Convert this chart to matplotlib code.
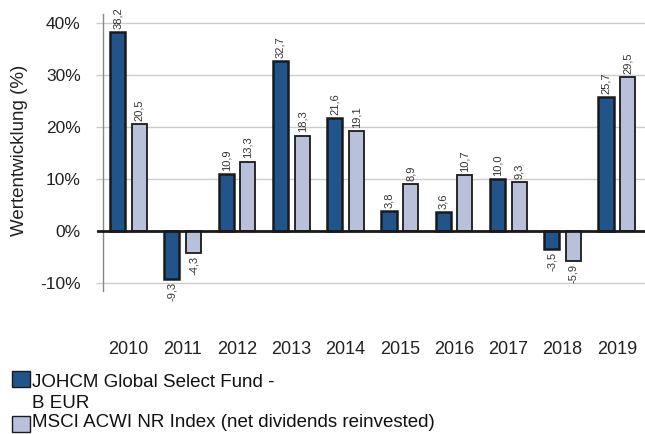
import numpy as np
import matplotlib.pyplot as plt
from matplotlib.patches import Rectangle

plt.rcParams['font.family'] = ['Liberation Sans', 'DejaVu Sans']

years = ['2010', '2011', '2012', '2013', '2014', '2015', '2016', '2017', '2018', '2019']
fund = [38.2, -9.3, 10.9, 32.7, 21.6, 3.8, 3.6, 10.0, -3.5, 25.7]
index = [20.5, -4.3, 13.3, 18.3, 19.1, 8.9, 10.7, 9.3, -5.9, 29.5]
fund_lines = ['JOHCM Global Select Fund -', 'B EUR']
index_name = 'MSCI ACWI NR Index (net dividends reinvested)'

dark = '#22548c'
light = '#b9c1da'
W, H = 645, 434

fig = plt.figure(figsize=(6.45, 4.34), dpi=100)
ax = fig.add_axes([103 / W, 1 - 291 / H, 1 - 103 / W, (291 - 14) / H])

x = np.arange(len(years))
w = 0.28
off = 0.2
ax.bar(x - off, fund, w, color=dark, edgecolor='#1a1a1a', linewidth=1.8, zorder=3)
ax.bar(x + off, index, w, color=light, edgecolor='#1a1a1a', linewidth=1.3, zorder=3)

def fmt(v):
    return ('%.1f' % v).replace('.', ',')

for xs, vals in ((x - off, fund), (x + off, index)):
    for xi, v in zip(xs, vals):
        if v >= 0:
            ax.text(xi, v + 0.6, fmt(v), rotation=90, ha='center', va='bottom',
                    fontsize=8, color='#333333')
        else:
            ax.text(xi, v - 0.6, fmt(v), rotation=90, ha='center', va='top',
                    fontsize=8, color='#333333')

ax.set_ylim(-11.6, 41.7)
ax.set_xlim(-0.47, 9.52)
ax.set_yticks([-10, 0, 10, 20, 30, 40])
ax.set_yticklabels(['-10%', '0%', '10%', '20%', '30%', '40%'], fontsize=12.5, color='#222222')
ax.set_xticks(x)
ax.set_xticklabels(years, fontsize=13, color='#222222')
ax.tick_params(axis='x', length=0, pad=36)
ax.tick_params(axis='y', length=5, width=1, color='#cccccc', pad=11)

ax.grid(axis='y', color='#cccccc', linewidth=1, zorder=0)
ax.axhline(0, xmin=-0.01, color='#1a1a1a', linewidth=2, zorder=4, clip_on=False)
for s in ['top', 'right', 'bottom']:
    ax.spines[s].set_visible(False)
ax.spines['left'].set_color('#888888')
ax.spines['left'].set_linewidth(1)

fig.text(20 / W, 1 - 150 / H, 'Wertentwicklung (%)', rotation=90, ha='center',
         va='center', fontsize=13.5, color='#222222')

# legend, drawn by hand so the patch sits on the first line of the wrapped label
fig.add_artist(Rectangle((12 / W, 1 - 387 / H), 18 / W, 16 / H, transform=fig.transFigure,
                         facecolor=dark, edgecolor='#1a1a1a', linewidth=1))
fig.add_artist(Rectangle((12 / W, 1 - 432 / H), 18 / W, 16 / H, transform=fig.transFigure,
                         facecolor=light, edgecolor='#1a1a1a', linewidth=1))
fig.text(32 / W, 1 - 387 / H, fund_lines[0], ha='left', va='baseline', fontsize=13.5, color='#111111')
fig.text(32 / W, 1 - 408 / H, fund_lines[1], ha='left', va='baseline', fontsize=13.5, color='#111111')
fig.text(32 / W, 1 - 427 / H, index_name, ha='left', va='baseline', fontsize=13.5, color='#111111')

fig.savefig('out.png', dpi=100)
